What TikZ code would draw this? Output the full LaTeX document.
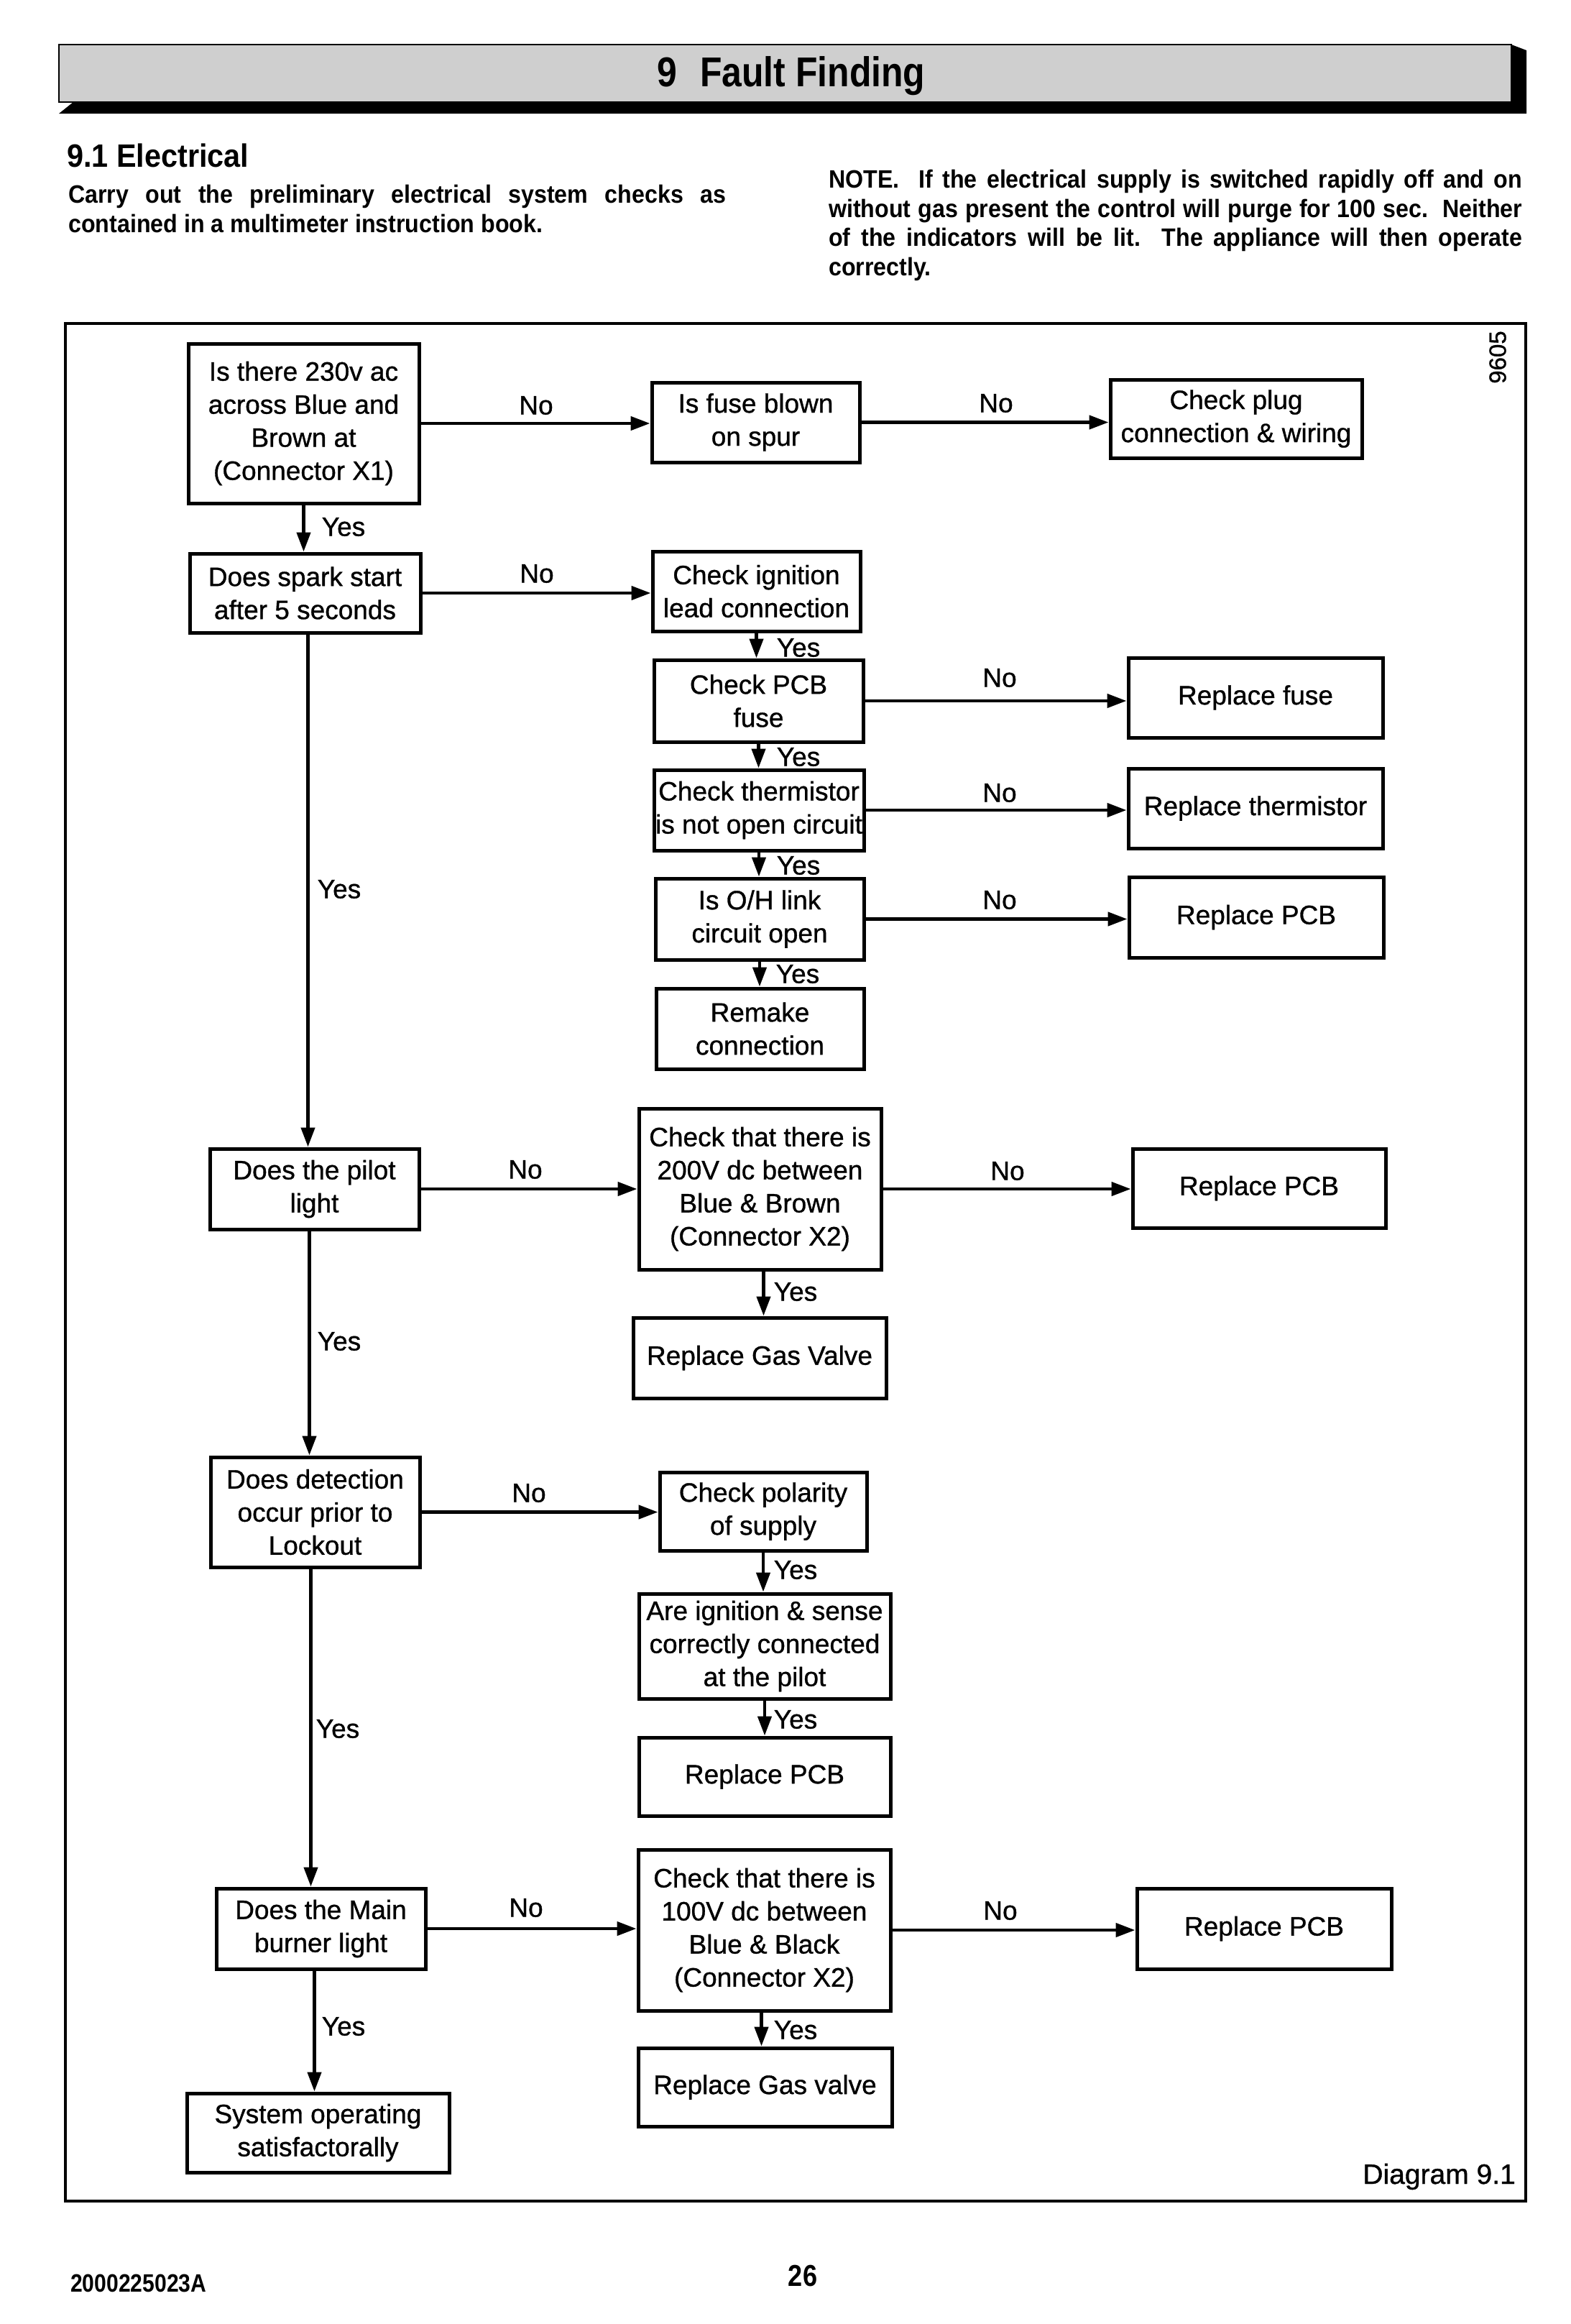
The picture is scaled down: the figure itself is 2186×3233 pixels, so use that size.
\documentclass[tikz,border=0pt]{standalone}
\usepackage{fontspec}
\setmainfont{Liberation Sans}
\newfontfamily\boxfam[FakeBold=0.9]{Liberation Sans}
\newfontfamily\parafam[FakeStretch=0.92]{Liberation Sans}
\newfontfamily\condfam[FakeStretch=0.86]{Liberation Sans}
\usetikzlibrary{arrows.meta}
\newcommand\boxfont{\boxfam\fontsize{37}{46}\selectfont}
\newcommand\parafont{\parafam\bfseries\fontsize{35}{40.5}\selectfont}
\newcommand\fb[6]{%
  \pgfmathsetmacro\fbX{(#2+#4)/2}\pgfmathsetmacro\fbY{(#3+#5)/2}%
  \pgfmathsetmacro\fbW{#4-#2}\pgfmathsetmacro\fbH{#5-#3}%
  \node[flowbox, minimum width=\fbW pt, minimum height=\fbH pt] (#1) at (\fbX,\fbY) {#6};}
\tikzset{
  flowbox/.style={draw, line width=5pt, inner sep=0pt, align=center, font=\boxfont},
  arr/.style={line width=4.5pt, -{Triangle[length=27pt,width=19pt]}},
  lbl/.style={font=\boxfont, inner sep=0pt},
}
\begin{document}
\begin{tikzpicture}[x=1pt,y=-1pt]
\useasboundingbox (0,0) rectangle (2186,3233);
\fill[white] (0,0) rectangle (2186,3233);

% banner
\fill[black] (2103,62) -- (2124,70) -- (2124,158) -- (82,158) -- (102,142) -- cycle;
\draw[line width=2.5pt, fill=gray!38] (82,62) rectangle (2103,142);
\node[font=\condfam\bfseries\fontsize{58}{62}\selectfont, inner sep=0pt] (title) at (1101,106) {9\hspace{0.55em}Fault Finding};

% headings and paragraphs
\node[font=\parafam\bfseries\fontsize{45}{50}\selectfont, anchor=base west, inner sep=0pt] (sec) at (93,232) {9.1 Electrical};
\node[font=\parafont, anchor=north west, inner sep=0pt, text width=915pt, align=justify] (para1) at (95,257)
  {Carry out the preliminary electrical system checks as\linebreak contained in a multimeter instruction book.};
\node[font=\parafont, anchor=north west, inner sep=0pt, text width=965pt, align=justify] (note) at (1153,236)
  {NOTE.\ \ If the electrical supply is switched rapidly off and on\linebreak without gas present the control will purge for 100 sec.\ \ Neither\linebreak of the indicators will be lit.\ \ The appliance will then operate\linebreak correctly.};

% frame
\draw[line width=4pt] (91,450) rectangle (2123,3062);
\node[font=\boxfam\fontsize{33}{38}\selectfont, rotate=90, inner sep=0pt] (code) at (2084,497) {9605};
\node[font=\boxfam\fontsize{39}{46}\selectfont, anchor=base east, inner sep=0pt] (dia) at (2109,3038) {Diagram 9.1};

% boxes
\fb{b1}{262}{478}{583}{700}{Is there 230v ac\\across Blue and\\Brown at\\(Connector X1)}
\fb{b2}{907}{532}{1196}{643}{Is fuse blown\\on spur}
\fb{b3}{1545}{528}{1895}{637}{Check plug\\connection \& wiring}
\fb{b4}{264}{770}{585}{880}{Does spark start\\after 5 seconds}
\fb{b5}{908}{767}{1197}{878}{Check ignition\\lead connection}
\fb{b6}{910}{918}{1201}{1032}{Check PCB\\fuse}
\fb{b7}{1570}{915}{1924}{1026}{Replace fuse}
\fb{b8}{910}{1071}{1202}{1183}{Check thermistor\\is not open circuit}
\fb{b9}{1570}{1069}{1924}{1180}{Replace thermistor}
\fb{b10}{912}{1222}{1202}{1335}{Is O/H link\\circuit open}
\fb{b11}{1571}{1220}{1925}{1332}{Replace PCB}
\fb{b12}{913}{1375}{1202}{1487}{Remake\\connection}
\fb{b13}{292}{1598}{583}{1710}{Does the pilot\\light}
\fb{b14}{889}{1542}{1226}{1766}{Check that there is\\200V dc between\\Blue \& Brown\\(Connector X2)}
\fb{b15}{1576}{1598}{1928}{1708}{Replace PCB}
\fb{b16}{881}{1833}{1233}{1945}{Replace Gas Valve}
\fb{b17}{293}{2027}{584}{2180}{Does detection\\occur prior to\\Lockout}
\fb{b18}{918}{2048}{1206}{2157}{Check polarity\\of supply}
\fb{b19}{889}{2217}{1239}{2363}{Are ignition \& sense\\correctly connected\\at the pilot}
\fb{b20}{889}{2417}{1239}{2526}{Replace PCB}
\fb{b21}{301}{2627}{592}{2739}{Does the Main\\burner light}
\fb{b22}{888}{2573}{1239}{2797}{Check that there is\\100V dc between\\Blue \& Black\\(Connector X2)}
\fb{b23}{1582}{2627}{1936}{2739}{Replace PCB}
\fb{b24}{888}{2849}{1241}{2958}{Replace Gas valve}
\fb{b25}{260}{2912}{625}{3022}{System operating\\satisfactorally}

% connectors
\draw[arr] (b1.east) -- (b1.east -| b2.west);
\draw[arr] (b2.east) -- (b2.east -| b3.west);
\draw[arr] (b1.south) -- (b1.south |- b4.north);
\draw[arr] (b4.east) -- (b4.east -| b5.west);
\draw[arr] (b5.south) -- (b5.south |- b6.north);
\draw[arr] (b6.east) -- (b6.east -| b7.west);
\draw[arr] (b6.south) -- (b6.south |- b8.north);
\draw[arr] (b8.east) -- (b8.east -| b9.west);
\draw[arr] (b8.south) -- (b8.south |- b10.north);
\draw[arr] (b10.east) -- (b10.east -| b11.west);
\draw[arr] (b10.south) -- (b10.south |- b12.north);
\draw[arr] ([xshift=4pt]b4.south) -- ([xshift=4pt]b4.south |- b13.north);
\draw[arr] (b13.east) -- (b13.east -| b14.west);
\draw[arr] (b14.east) -- (b14.east -| b15.west);
\draw[arr] ([xshift=5pt]b14.south) -- ([xshift=5pt]b14.south |- b16.north);
\draw[arr] ([xshift=-7pt]b13.south) -- ([xshift=-7pt]b13.south |- b17.north);
\draw[arr] (b17.east) -- (b17.east -| b18.west);
\draw[arr] (b18.south) -- (b18.south |- b19.north);
\draw[arr] (b19.south) -- (b19.south |- b20.north);
\draw[arr] ([xshift=-6pt]b17.south) -- ([xshift=-6pt]b17.south |- b21.north);
\draw[arr] (b21.east) -- (b21.east -| b22.west);
\draw[arr] (b22.east) -- (b22.east -| b23.west);
\draw[arr] ([xshift=-4pt]b22.south) -- ([xshift=-4pt]b22.south |- b24.north);
\draw[arr] ([xshift=-9pt]b21.south) -- ([xshift=-9pt]b21.south |- b25.north);

% labels
\node[lbl] (n1) at (746,564) {No};
\node[lbl] (n2) at (1386,561) {No};
\node[lbl] (n3) at (747,798) {No};
\node[lbl] (n4) at (1391,943) {No};
\node[lbl] (n5) at (1391,1103) {No};
\node[lbl] (n6) at (1391,1252) {No};
\node[lbl] (n7) at (731,1627) {No};
\node[lbl] (n8) at (1402,1629) {No};
\node[lbl] (n9) at (736,2077) {No};
\node[lbl] (n10) at (732,2654) {No};
\node[lbl] (n11) at (1392,2658) {No};
\node[lbl] (y1) at (478,733) {Yes};
\node[lbl] (y2) at (1111,901) {Yes};
\node[lbl] (y3) at (1111,1053) {Yes};
\node[lbl] (y4) at (1111,1204) {Yes};
\node[lbl] (y5) at (1110,1355) {Yes};
\node[lbl] (y6) at (472,1237) {Yes};
\node[lbl] (y7) at (1107,1797) {Yes};
\node[lbl] (y8) at (472,1866) {Yes};
\node[lbl] (y9) at (1107,2184) {Yes};
\node[lbl] (y10) at (1107,2392) {Yes};
\node[lbl] (y11) at (470,2405) {Yes};
\node[lbl] (y12) at (1107,2824) {Yes};
\node[lbl] (y13) at (478,2819) {Yes};

% footer
\node[font=\condfam\bfseries\fontsize{35}{40}\selectfont, anchor=base west, inner sep=0pt] (docno) at (98,3188) {2000225023A};
\node[font=\condfam\bfseries\fontsize{42}{46}\selectfont, inner sep=0pt] (page) at (1117,3166) {26};
\end{tikzpicture}
\end{document}
